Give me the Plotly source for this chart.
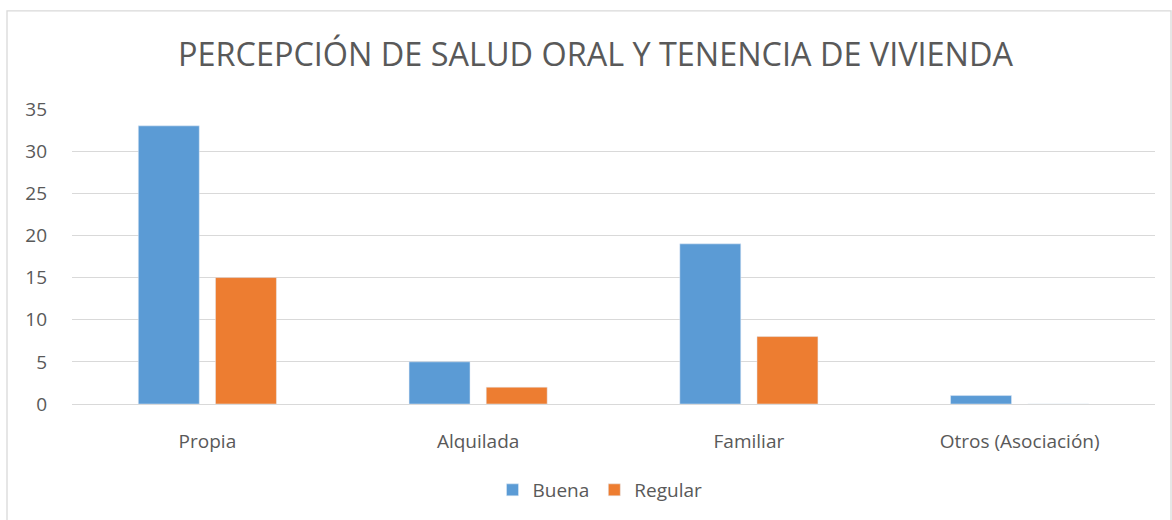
import plotly.graph_objects as go

categories = ["Propia", "Alquilada", "Familiar", "Otros (Asociación)"]
buena = [33, 5, 19, 1]
regular = [15, 2, 8, 0]
y_ticks = [0, 5, 10, 15, 20, 25, 30, 35]

W, H = 1172, 520
L, R, T, B = 72, 17, 109, 115
pw, ph = W - L - R, H - T - B

fig = go.Figure()
fig.add_trace(go.Bar(name="Buena", x=categories, y=buena, marker_color="#5B9BD5"))
fig.add_trace(go.Bar(name="Regular", x=categories, y=regular, marker_color="#ED7D31"))

font_fam = "Open Sans, Noto Sans, sans-serif"
fig.update_layout(
    width=W, height=H,
    margin=dict(l=L, r=R, t=T, b=B),
    paper_bgcolor="white", plot_bgcolor="white",
    barmode="group", bargap=0.43, bargroupgap=0.21,
    font=dict(family=font_fam, color="#595959", size=19),
    title=dict(text="PERCEPCIÓN DE SALUD ORAL Y TENENCIA DE VIVIENDA",
               x=595.5 / W, xref="container", xanchor="center",
               y=1 - 55 / H, yref="container", yanchor="middle",
               font=dict(size=32.4, color="#595959", family=font_fam)),
    legend=dict(orientation="h", x=(600 - L) / pw, xanchor="center", y=(405 - 490) / ph, yanchor="middle",
                font=dict(size=19, color="#595959"), itemwidth=30, traceorder="normal"),
    showlegend=True,
)
fig.update_yaxes(range=[0, 35], tickvals=y_ticks, showgrid=True, gridcolor="#D9D9D9", gridwidth=1.4,
                 zeroline=False, showline=False, ticks="", ticklabelstandoff=24,
                 tickfont=dict(size=19, color="#595959"))
fig.update_xaxes(showline=True, linecolor="#D9D9D9", linewidth=1.4, ticks="", ticklabelstandoff=20,
                 tickfont=dict(size=19, color="#595959"))

# chart area border
fig.add_shape(type="rect", xref="paper", yref="paper",
              x0=(7 - L) / pw, x1=(1171 - L) / pw,
              y0=-0.6, y1=(405 - 10.5) / ph,
              line=dict(color="#D9D9D9", width=1.3), fillcolor="rgba(0,0,0,0)", layer="below")

fig.write_html("out.html", config={"displayModeBar": False},
               post_script="document.body.style.margin='0';document.body.style.padding='0';")
